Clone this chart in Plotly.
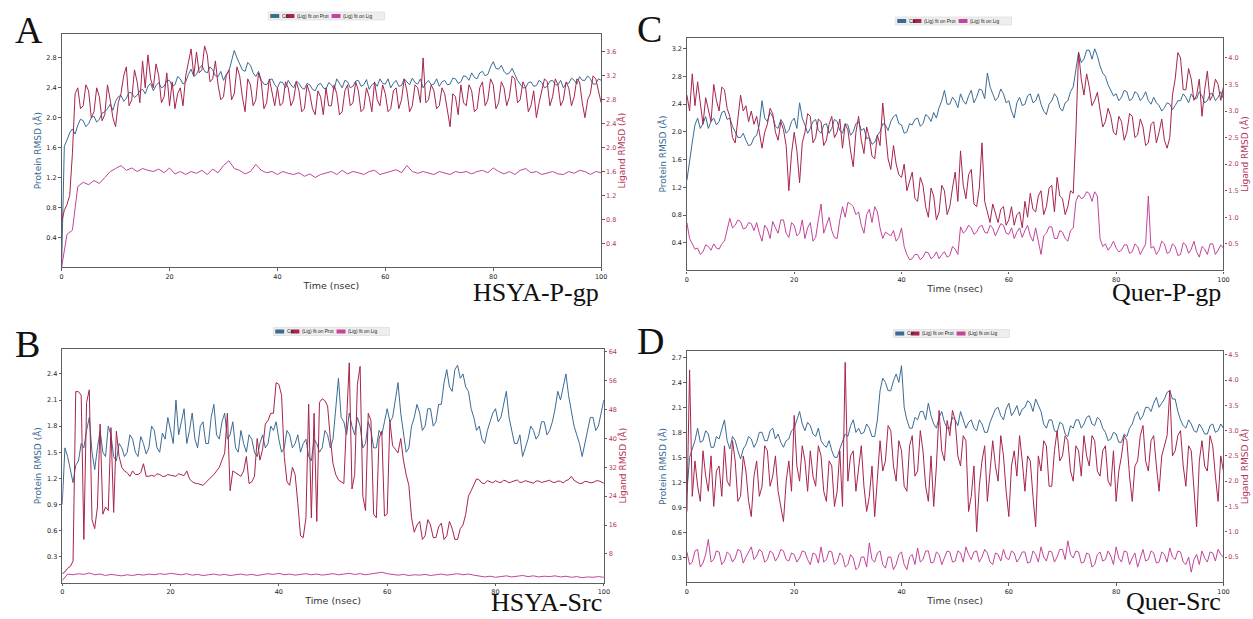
import numpy as np
import plotly.graph_objects as go

W, H = 1253, 619

# ---------------- data (RMSD vs time) ----------------
# 201-point series are sampled every 0.5 ns, 101-point series every 1 ns (0..100 ns)
blue_A = [0.00, 1.62, 1.70, 1.80, 1.85, 1.78, 1.90, 1.98, 1.96, 1.88,
          1.92, 2.00, 2.02, 1.94, 1.98, 2.06, 2.08, 2.12, 2.18, 2.10,
          2.22, 2.28, 2.30, 2.22, 2.26, 2.34, 2.33, 2.27, 2.30, 2.36,
          2.38, 2.32, 2.42, 2.46, 2.36, 2.43, 2.47, 2.40, 2.42, 2.50,
          2.50, 2.42, 2.44, 2.55, 2.52, 2.45, 2.48, 2.58, 2.65, 2.55,
          2.58, 2.66, 2.70, 2.62, 2.60, 2.68, 2.64, 2.56, 2.55, 2.62,
          2.50, 2.58, 2.62, 2.75, 2.90, 2.80, 2.72, 2.64, 2.62, 2.74,
          2.70, 2.60, 2.55, 2.62, 2.50, 2.45, 2.44, 2.50, 2.52, 2.44,
          2.40, 2.48, 2.47, 2.40, 2.50, 2.44, 2.40, 2.49, 2.46, 2.40,
          2.38, 2.46, 2.44, 2.38, 2.36, 2.44, 2.46, 2.40, 2.38, 2.47,
          2.44, 2.38, 2.52, 2.45, 2.40, 2.50, 2.48, 2.40, 2.42, 2.49,
          2.50, 2.42, 2.44, 2.51, 2.38, 2.44, 2.47, 2.42, 2.52, 2.46,
          2.45, 2.52, 2.40, 2.46, 2.50, 2.42, 2.43, 2.52, 2.48, 2.44,
          2.53, 2.47, 2.45, 2.52, 2.40, 2.46, 2.50, 2.44, 2.45, 2.52,
          2.42, 2.48, 2.50, 2.44, 2.45, 2.53, 2.52, 2.46, 2.48, 2.56,
          2.55, 2.50, 2.60, 2.54, 2.52, 2.60, 2.62, 2.56, 2.58, 2.68,
          2.75, 2.66, 2.65, 2.70, 2.62, 2.58, 2.60, 2.66, 2.58, 2.50,
          2.45, 2.40, 2.40, 2.47, 2.48, 2.42, 2.43, 2.50, 2.47, 2.40,
          2.42, 2.49, 2.50, 2.44, 2.44, 2.50, 2.40, 2.46, 2.46, 2.53,
          2.50, 2.45, 2.55, 2.50, 2.50, 2.56, 2.52, 2.45, 2.45, 2.52,
          2.50]
red_A = [0.75, 0.95, 1.05, 1.20, 1.90, 2.90, 3.00, 2.65, 2.70, 3.05,
         2.95, 2.50, 2.60, 3.00, 2.85, 2.45, 2.55, 3.05, 2.80, 2.50,
         2.35, 2.75, 2.90, 3.20, 3.35, 2.70, 2.80, 3.30, 3.10, 2.75,
         3.45, 3.00, 3.55, 3.15, 3.00, 3.40, 3.20, 2.75, 2.85, 3.25,
         2.70, 3.10, 2.65, 2.90, 3.00, 2.70, 3.20, 3.45, 3.65, 3.20,
         3.60, 3.25, 3.30, 3.70, 3.55, 3.10, 3.15, 3.45, 3.05, 2.80,
         2.85, 3.20, 3.30, 2.80, 2.90, 3.35, 3.20, 2.85, 2.60, 3.15,
         3.05, 2.70, 2.80, 3.25, 3.10, 2.65, 2.75, 3.15, 2.95, 2.70,
         3.00, 2.70, 2.75, 3.10, 3.00, 2.70, 2.80, 3.10, 2.95, 2.60,
         2.65, 3.05, 2.90, 2.65, 2.55, 2.95, 2.85, 2.55, 3.00, 2.70,
         2.70, 3.05, 2.90, 2.55, 2.60, 2.95, 3.05, 2.70, 2.75, 3.10,
         2.95, 2.60, 2.65, 3.00, 2.85, 2.60, 3.10, 2.80, 2.70, 3.05,
         2.90, 2.60, 2.65, 2.95, 3.00, 2.65, 2.80, 3.15, 2.95, 2.60,
         2.70, 3.05, 3.00, 2.75, 3.50, 2.75, 2.80, 3.05, 2.95, 2.65,
         2.70, 3.00, 2.90, 2.60, 2.35, 2.90, 2.85, 2.55, 3.05, 2.75,
         2.70, 3.05, 2.95, 2.60, 2.65, 3.00, 3.10, 2.70, 2.80, 3.15,
         3.05, 2.65, 2.75, 3.10, 3.00, 2.70, 2.85, 3.20, 3.15, 2.75,
         2.80, 3.10, 3.00, 2.60, 2.70, 2.95, 2.50, 2.75, 2.95, 3.15,
         3.10, 2.70, 2.85, 3.15, 3.05, 2.70, 2.80, 3.10, 3.00, 2.70,
         2.85, 3.15, 3.10, 2.75, 2.50, 2.80, 2.90, 3.20, 3.15, 2.95,
         2.75]
mag_A = [0.00, 0.55, 0.62, 1.35, 1.42, 1.38, 1.45, 1.40, 1.50, 1.60,
         1.65, 1.70, 1.62, 1.66, 1.60, 1.65, 1.62, 1.60, 1.64, 1.58,
         1.66, 1.56, 1.60, 1.55, 1.60, 1.57, 1.62, 1.55, 1.64, 1.58,
         1.70, 1.78, 1.65, 1.62, 1.56, 1.60, 1.72, 1.62, 1.58, 1.60,
         1.55, 1.60, 1.57, 1.55, 1.58, 1.52, 1.56, 1.50, 1.55, 1.58,
         1.60, 1.55, 1.62, 1.56, 1.60, 1.58, 1.55, 1.60, 1.62, 1.55,
         1.58, 1.60, 1.63, 1.58, 1.70, 1.60, 1.57, 1.60, 1.58, 1.55,
         1.60, 1.57, 1.55, 1.60, 1.58, 1.60, 1.56, 1.60, 1.62, 1.58,
         1.66, 1.60, 1.56, 1.60, 1.55, 1.62, 1.65, 1.58, 1.60, 1.55,
         1.58, 1.60, 1.56, 1.55, 1.60, 1.57, 1.62, 1.60, 1.55, 1.60,
         1.58]

blue_C = [1.30, 1.60, 1.85, 2.10, 2.20, 2.05, 2.12, 2.22, 2.05, 2.15,
          2.20, 2.10, 2.15, 2.28, 2.30, 2.18, 2.20, 2.08, 2.00, 1.92,
          1.92, 1.98, 1.88, 1.80, 1.82, 1.92, 1.95, 2.10, 2.45, 2.20,
          2.15, 2.28, 2.22, 2.08, 2.05, 2.18, 2.12, 1.98, 2.02, 2.15,
          2.20, 2.05, 2.42, 2.20, 2.10, 1.98, 2.05, 2.15, 2.18, 2.02,
          1.98, 2.10, 2.12, 1.98, 2.05, 2.18, 2.15, 2.02, 1.98, 2.12,
          2.10, 1.95, 2.00, 2.12, 2.15, 2.02, 2.05, 1.90, 1.92, 1.82,
          1.85, 1.95, 2.00, 2.12, 2.10, 2.02, 2.15, 2.22, 2.25, 2.12,
          2.10, 1.98, 2.00, 2.12, 2.10, 2.18, 2.20, 2.08, 2.12, 2.25,
          2.22, 2.15, 2.28, 2.20, 2.35, 2.45, 2.60, 2.40, 2.40, 2.50,
          2.45, 2.35, 2.55, 2.45, 2.40, 2.52, 2.60, 2.42, 2.50, 2.62,
          2.60, 2.48, 2.85, 2.65, 2.55, 2.45, 2.50, 2.62, 2.55, 2.42,
          2.45, 2.30, 2.20, 2.42, 2.50, 2.38, 2.40, 2.52, 2.55, 2.42,
          2.45, 2.55, 2.40, 2.30, 2.25, 2.40, 2.45, 2.55, 2.50, 2.35,
          2.30, 2.42, 2.45, 2.58, 2.65, 2.90, 3.15, 3.00, 3.05, 3.18,
          3.18, 3.05, 3.20, 3.10, 2.95, 2.85, 2.80, 2.68, 2.60, 2.52,
          2.55, 2.45, 2.50, 2.60, 2.58, 2.45, 2.48, 2.58, 2.55, 2.45,
          2.50, 2.58, 2.45, 2.40, 2.50, 2.42, 2.38, 2.30, 2.35, 2.42,
          2.40, 2.32, 2.38, 2.45, 2.45, 2.55, 2.50, 2.42, 2.55, 2.48,
          2.48, 2.58, 2.52, 2.42, 2.45, 2.55, 2.55, 2.45, 2.50, 2.58,
          2.48]
red_C = [3.30, 3.00, 3.70, 3.10, 3.55, 3.20, 2.75, 3.25, 3.00, 2.80,
         3.50, 3.20, 3.00, 3.45, 3.40, 3.05, 2.90, 2.50, 2.40, 2.90,
         3.30, 3.00, 3.10, 2.80, 3.00, 2.75, 2.90, 2.60, 2.30, 2.60,
         2.75, 3.05, 2.95, 2.60, 2.45, 2.80, 2.65, 2.35, 1.50, 2.20,
         2.60, 2.25, 1.65, 2.40, 2.60, 2.95, 2.90, 2.40, 2.50, 2.85,
         2.80, 2.35, 2.45, 2.75, 2.90, 2.50, 2.60, 2.85, 2.30, 2.75,
         2.65, 2.25, 1.95, 2.60, 2.90, 2.45, 2.20, 2.70, 2.50, 2.15,
         2.10, 2.55, 2.35, 3.15, 2.60, 2.10, 1.90, 2.35, 2.00, 1.80,
         1.75, 2.00, 1.50, 1.70, 1.85, 1.35, 1.30, 1.75, 1.60, 1.20,
         1.00, 1.55, 1.40, 0.95, 1.10, 1.60, 1.50, 1.05, 1.20, 1.55,
         1.85, 1.30, 2.25, 1.60, 1.35, 1.80, 1.90, 1.25, 1.20, 1.55,
         2.40, 1.30, 1.10, 0.90, 1.25, 1.05, 0.90, 1.15, 1.20, 0.85,
         0.95, 1.20, 0.85, 1.05, 1.10, 0.80, 1.30, 1.00, 1.45, 1.15,
         1.10, 1.40, 1.50, 1.05, 1.20, 1.55, 1.60, 1.10, 1.75, 1.40,
         1.35, 1.05, 1.20, 1.50, 1.45, 2.60, 4.10, 3.60, 3.30, 3.70,
         3.45, 3.10, 3.20, 3.35, 3.00, 2.70, 2.80, 3.05, 2.90, 2.60,
         2.55, 2.90, 2.80, 2.45, 2.60, 2.95, 2.90, 2.50, 2.55, 2.85,
         2.70, 2.35, 2.40, 2.75, 2.80, 2.40, 2.60, 2.85, 2.45, 2.30,
         2.50, 3.30, 3.60, 4.10, 4.00, 3.40, 3.40, 3.80, 3.60, 3.20,
         3.30, 3.60, 2.90, 3.40, 3.75, 3.20, 3.30, 3.60, 3.50, 3.20,
         3.45]
mag_C = [0.90, 0.60, 0.50, 0.40, 0.42, 0.30, 0.35, 0.48, 0.45, 0.38,
         0.50, 0.42, 0.40, 0.50, 0.55, 0.80, 0.98, 0.80, 0.85, 0.95,
         0.92, 0.78, 0.80, 0.90, 0.88, 0.75, 0.90, 0.70, 0.55, 0.85,
         0.78, 0.60, 0.92, 0.80, 0.70, 0.95, 0.95, 0.70, 0.62, 0.90,
         0.85, 0.65, 0.70, 0.95, 0.60, 0.80, 0.90, 0.55, 0.62, 0.95,
         1.25, 0.70, 0.85, 1.00, 0.75, 0.62, 0.60, 0.95, 1.20, 1.00,
         1.28, 1.25, 1.20, 1.05, 1.10, 0.85, 0.70, 1.05, 1.15, 0.90,
         1.20, 1.10, 0.80, 0.60, 0.72, 0.68, 0.65, 0.75, 0.55, 0.62,
         0.80, 0.45, 0.30, 0.20, 0.22, 0.30, 0.30, 0.20, 0.25, 0.35,
         0.33, 0.22, 0.26, 0.35, 0.22, 0.30, 0.35, 0.25, 0.28, 0.45,
         0.40, 0.30, 0.82, 0.70, 0.75, 0.85, 0.80, 0.68, 0.72, 0.82,
         0.85, 0.72, 0.70, 0.85, 0.80, 0.65, 0.75, 0.88, 0.85, 0.70,
         0.68, 0.80, 0.60, 0.72, 0.80, 0.62, 0.75, 0.85, 0.65, 0.55,
         0.80, 0.55, 0.30, 0.65, 0.70, 0.82, 0.82, 0.60, 0.60, 0.75,
         0.72, 0.60, 0.55, 0.75, 0.80, 1.30, 1.42, 1.35, 1.38, 1.48,
         1.45, 1.30, 1.48, 1.40, 0.60, 0.45, 0.50, 0.38, 0.45, 0.55,
         0.42, 0.35, 0.38, 0.48, 0.48, 0.32, 0.35, 0.50, 0.45, 0.30,
         0.40, 0.50, 1.40, 0.42, 0.45, 0.30, 0.38, 0.55, 0.50, 0.32,
         0.35, 0.50, 0.45, 0.28, 0.30, 0.52, 0.48, 0.32, 0.40, 0.55,
         0.35, 0.25, 0.45, 0.40, 0.30, 0.50, 0.50, 0.30, 0.38, 0.48,
         0.42]

blue_B = [0.90, 1.55, 1.45, 1.30, 1.15, 1.35, 1.40, 1.60, 1.55, 1.75,
          1.90, 1.50, 1.30, 1.55, 1.75, 1.50, 1.45, 1.80, 1.70, 1.45,
          1.40, 1.60, 1.55, 1.45, 1.50, 1.70, 1.65, 1.50, 1.45, 1.68,
          1.60, 1.48, 1.55, 1.80, 1.75, 1.55, 1.50, 1.72, 1.65, 1.90,
          1.75, 1.60, 2.10, 1.70, 1.85, 2.00, 1.60, 1.75, 1.95, 1.65,
          1.55, 1.80, 1.85, 1.60, 1.60, 1.90, 2.05, 1.70, 1.65, 1.85,
          1.95, 1.65, 1.70, 1.85, 1.55, 1.50, 1.75, 1.60, 1.50, 1.70,
          1.65, 1.50, 1.45, 1.60, 1.70, 1.55, 1.60, 1.80, 1.75, 1.85,
          1.65, 1.50, 1.55, 1.75, 1.70, 1.55, 1.60, 1.70, 1.50, 1.60,
          1.65, 1.45, 1.40, 1.65, 1.60, 1.50, 1.55, 1.75, 1.70, 1.55,
          1.65, 2.00, 2.35, 1.90, 1.85, 1.70, 1.95, 1.80, 1.70, 1.90,
          1.80, 1.55, 1.60, 1.85, 1.75, 1.55, 1.55, 1.75, 1.70, 1.85,
          2.00, 1.85, 1.90, 2.10, 2.30, 1.95, 1.70, 1.50, 1.55, 1.80,
          1.90, 2.05, 1.95, 1.75, 1.80, 2.00, 2.00, 1.80, 1.85, 2.05,
          2.05, 2.30, 2.45, 2.25, 2.20, 2.45, 2.50, 2.35, 2.40, 2.25,
          2.20, 2.00, 1.90, 1.75, 1.80, 1.65, 1.60, 1.75, 1.85, 1.95,
          2.00, 1.85, 1.90, 2.05, 2.20, 1.90, 1.75, 1.60, 1.60, 1.70,
          1.45, 1.55, 1.65, 1.80, 1.75, 1.65, 1.70, 1.85, 1.85, 1.70,
          1.75, 1.85, 2.00, 2.20, 2.10, 2.25, 2.40, 2.15, 1.95, 1.80,
          1.70, 1.60, 1.45, 1.60, 1.75, 1.90, 1.90, 1.75, 1.80, 1.95,
          2.10]
red_B = [2.5, 3.0, 4.0, 4.5, 6.0, 53.0, 53.0, 52.0, 12.0, 50.0,
         53.5, 17.5, 15.0, 21.0, 44.0, 19.0, 21.0, 20.0, 43.0, 19.5,
         42.0, 35.0, 32.0, 31.0, 30.5, 29.5, 31.0, 30.0, 30.0, 30.5,
         33.0, 29.5, 29.5, 29.8, 29.5, 30.2, 30.0, 29.5, 29.5, 30.0,
         29.8, 29.6, 29.5, 30.2, 30.0, 29.7, 31.0, 28.8, 28.0, 27.6,
         27.5, 27.2, 27.0, 27.8, 28.5, 29.2, 30.0, 31.0, 32.0, 34.0,
         36.0, 47.0, 25.5, 31.0, 30.5, 29.8, 29.5, 31.0, 35.0, 27.5,
         28.0, 29.5, 40.0, 34.0, 37.0, 44.0, 45.0, 47.0, 47.0, 55.5,
         55.0, 52.0, 35.0, 28.0, 27.0, 32.0, 30.0, 22.0, 13.0, 12.5,
         18.0, 49.5, 18.0, 47.0, 17.0, 50.0, 51.0, 50.5, 49.0, 40.0,
         33.0, 30.0, 28.5, 28.0, 27.5, 45.0, 61.0, 26.0, 30.0, 55.0,
         60.0, 24.0, 20.0, 47.0, 45.0, 19.0, 18.0, 40.0, 42.0, 18.5,
         19.0, 45.0, 38.0, 37.0, 36.0, 40.0, 34.0, 30.0, 27.0, 18.0,
         14.0, 16.0, 17.0, 12.0, 13.0, 17.5, 16.0, 12.5, 12.5, 15.5,
         16.5, 12.0, 13.0, 17.0, 15.0, 12.0, 12.0, 15.0, 16.0, 19.0,
         24.0, 25.5, 27.0, 28.8, 28.5, 27.6, 27.5, 28.3, 28.0, 27.7,
         28.3, 27.9, 27.8, 28.4, 28.2, 27.7, 28.0, 28.3, 28.5, 27.8,
         27.9, 28.3, 28.1, 27.7, 27.6, 28.2, 28.2, 27.8, 28.0, 28.4,
         28.4, 27.9, 27.8, 28.2, 28.1, 27.7, 28.3, 28.6, 29.5, 28.4,
         28.0, 27.5, 27.6, 28.1, 28.0, 27.7, 27.8, 28.2, 28.3, 27.9,
         27.6]
mag_B = [0.6, 2.4, 2.2, 2.5, 2.3, 2.7, 2.2, 2.4, 2.0, 2.3,
         2.1, 1.9, 2.2, 2.0, 2.3, 2.1, 2.4, 2.2, 2.5, 2.3,
         2.6, 2.4, 2.2, 2.5, 2.1, 2.3, 2.0, 2.2, 2.4, 2.1,
         2.3, 2.0, 2.2, 2.4, 2.1, 2.3, 2.0, 2.2, 2.5, 2.3,
         2.6, 2.2, 2.4, 2.1, 2.3, 2.5, 2.2, 2.4, 2.1, 2.3,
         2.5, 2.2, 2.4, 2.6, 2.3, 2.5, 2.2, 2.4, 2.7, 2.9,
         2.5, 2.3, 2.1, 2.3, 2.0, 2.2, 2.1, 2.3, 2.0, 2.2,
         2.4, 2.1, 2.3, 2.5, 2.2, 2.4, 2.1, 1.8, 1.6, 1.8,
         1.5, 1.7, 1.9, 1.6, 1.8, 2.0, 1.7, 1.9, 1.6, 1.8,
         1.7, 1.9, 1.6, 1.8, 1.5, 1.7, 1.4, 1.6, 1.5, 1.7,
         1.5]

blue_D = [1.08, 1.50, 1.60, 1.70, 1.85, 1.68, 1.70, 1.82, 1.78, 1.62,
          1.62, 1.75, 1.72, 1.85, 1.95, 1.70, 1.60, 1.75, 1.70, 1.58,
          1.48, 1.60, 1.65, 1.75, 1.72, 1.62, 1.68, 1.80, 1.80, 1.70,
          1.70, 1.82, 1.85, 1.72, 1.78, 1.68, 1.62, 1.70, 1.72, 1.82,
          1.85, 1.95, 2.05, 1.90, 1.82, 1.92, 1.88, 1.78, 1.75, 1.85,
          1.70, 1.65, 1.62, 1.70, 1.58, 1.50, 1.50, 1.60, 1.68, 1.78,
          1.75, 1.88, 1.95, 1.80, 1.85, 1.78, 1.80, 1.90, 1.85, 1.75,
          1.75, 1.95, 2.30, 2.45, 2.40, 2.30, 2.30, 2.42, 2.50, 2.40,
          2.60, 2.10, 1.95, 1.85, 1.85, 1.98, 1.95, 2.05, 2.05, 1.95,
          2.15, 2.00, 1.90, 1.85, 1.98, 2.05, 1.92, 1.85, 1.85, 1.98,
          1.95, 1.88, 2.05, 1.95, 1.85, 1.92, 1.95, 1.85, 1.82, 1.95,
          1.90, 1.80, 1.80, 1.92, 2.00, 2.08, 2.10, 2.00, 1.95, 2.08,
          2.15, 2.00, 2.05, 2.12, 2.00, 2.08, 2.10, 2.18, 2.15, 2.05,
          2.20, 2.12, 2.05, 1.90, 1.85, 1.95, 1.95, 1.82, 1.80, 1.92,
          1.90, 1.78, 1.75, 1.88, 1.85, 1.95, 1.95, 1.85, 1.90, 1.98,
          2.00, 1.90, 1.88, 1.98, 1.95, 1.85, 1.80, 1.70, 1.72, 1.80,
          1.78, 1.68, 1.68, 1.78, 1.75, 1.85, 1.90, 2.00, 2.05, 1.95,
          2.00, 2.10, 2.10, 2.05, 2.15, 2.22, 2.10, 2.15, 2.20, 2.28,
          2.30, 2.20, 2.20, 2.05, 1.95, 1.88, 1.85, 1.95, 1.90, 1.82,
          1.80, 1.90, 1.85, 1.78, 1.78, 1.88, 1.90, 1.80, 1.82, 1.90,
          1.85]
red_D = [1.40, 4.20, 1.70, 2.40, 1.90, 1.60, 2.60, 2.10, 1.80, 2.50,
         1.50, 2.20, 2.30, 1.70, 2.70, 2.00, 1.90, 2.80, 2.40, 1.60,
         1.70, 2.50, 2.20, 1.60, 1.30, 2.10, 2.40, 1.70, 1.90, 2.70,
         2.60, 1.90, 2.10, 2.50, 1.80, 1.50, 1.20, 2.00, 2.40, 1.80,
         3.30, 2.30, 2.00, 2.70, 2.40, 1.80, 2.60, 2.10, 1.90, 2.70,
         2.50, 1.80, 1.60, 2.40, 2.30, 1.50, 1.80, 2.60, 1.50, 4.35,
         2.00, 2.50, 2.60, 1.80, 2.20, 2.70, 1.90, 1.40, 1.70, 2.30,
         1.30, 2.00, 2.80, 2.20, 2.40, 3.10, 3.00, 2.30, 2.00, 2.80,
         2.60, 1.90, 1.80, 2.70, 2.90, 2.10, 2.20, 3.00, 2.60, 1.90,
         1.60, 2.50, 1.50, 2.30, 3.40, 2.60, 2.40, 3.20, 2.90, 3.40,
         3.20, 2.50, 2.30, 2.90, 2.80, 1.40, 1.70, 2.30, 1.00, 1.90,
         2.40, 2.70, 1.60, 2.20, 2.80, 2.30, 2.00, 2.90, 2.50, 1.80,
         1.30, 2.30, 2.60, 2.10, 2.90, 2.40, 1.80, 2.50, 2.40, 1.70,
         1.10, 2.50, 2.20, 2.80, 2.70, 1.90, 1.90, 2.60, 3.00, 2.40,
         2.50, 2.90, 2.80, 2.20, 2.00, 2.70, 2.60, 2.10, 2.90, 2.50,
         2.30, 2.90, 2.80, 2.20, 2.10, 2.60, 2.70, 2.00, 1.90, 2.60,
         1.60, 2.20, 2.50, 2.90, 2.80, 2.10, 1.60, 2.30, 2.40, 2.90,
         3.10, 2.40, 2.20, 2.80, 2.90, 2.30, 1.80, 2.50, 2.70, 2.90,
         3.80, 2.50, 2.60, 2.90, 3.00, 2.30, 1.90, 2.70, 2.60, 1.90,
         1.10, 2.40, 2.80, 2.30, 2.20, 2.90, 2.70, 2.10, 1.60, 2.50,
         2.20]
mag_D = [0.60, 0.35, 0.40, 0.62, 0.65, 0.30, 0.38, 0.55, 0.85, 0.40,
         0.45, 0.62, 0.60, 0.35, 0.42, 0.60, 0.55, 0.40, 0.48, 0.65,
         0.62, 0.38, 0.50, 0.60, 0.70, 0.45, 0.52, 0.65, 0.60, 0.40,
         0.45, 0.62, 0.58, 0.42, 0.50, 0.65, 0.62, 0.45, 0.42, 0.58,
         0.55, 0.40, 0.48, 0.62, 0.60, 0.45, 0.35, 0.58, 0.55, 0.38,
         0.70, 0.40, 0.45, 0.62, 0.60, 0.35, 0.40, 0.58, 0.52, 0.30,
         0.35, 0.55, 0.48, 0.25, 0.30, 0.50, 0.50, 0.30, 0.78, 0.45,
         0.40, 0.58, 0.62, 0.35, 0.28, 0.50, 0.50, 0.25, 0.35, 0.55,
         0.60, 0.35, 0.25, 0.50, 0.55, 0.35, 0.68, 0.40, 0.45, 0.62,
         0.62, 0.38, 0.40, 0.60, 0.55, 0.35, 0.48, 0.62, 0.60, 0.40,
         0.42, 0.62, 0.58, 0.40, 0.70, 0.55, 0.45, 0.60, 0.62, 0.40,
         0.50, 0.65, 0.58, 0.40, 0.35, 0.58, 0.55, 0.42, 0.65, 0.48,
         0.45, 0.62, 0.58, 0.40, 0.48, 0.60, 0.60, 0.38, 0.40, 0.62,
         0.55, 0.40, 0.70, 0.50, 0.42, 0.62, 0.60, 0.40, 0.50, 0.65,
         0.65, 0.45, 0.82, 0.55, 0.48, 0.62, 0.60, 0.38, 0.40, 0.58,
         0.55, 0.30, 0.35, 0.55, 0.60, 0.42, 0.45, 0.62, 0.52, 0.35,
         0.70, 0.48, 0.40, 0.62, 0.60, 0.35, 0.48, 0.58, 0.30, 0.50,
         0.65, 0.42, 0.45, 0.62, 0.58, 0.38, 0.40, 0.60, 0.55, 0.40,
         0.68, 0.50, 0.45, 0.62, 0.60, 0.40, 0.35, 0.50, 0.20, 0.45,
         0.55, 0.35, 0.62, 0.48, 0.40, 0.60, 0.58, 0.42, 0.65, 0.55,
         0.50]

time_ticks = [0, 20, 40, 60, 80, 100]
left_ticks_A = [0.4, 0.8, 1.2, 1.6, 2.0, 2.4, 2.8]
right_ticks_A = [0.4, 0.8, 1.2, 1.6, 2.0, 2.4, 2.8, 3.2, 3.6]
left_ticks_C = [0.4, 0.8, 1.2, 1.6, 2.0, 2.4, 2.8, 3.2]
right_ticks_C = [0.5, 1.0, 1.5, 2.0, 2.5, 3.0, 3.5, 4.0]
left_ticks_B = [0.3, 0.6, 0.9, 1.2, 1.5, 1.8, 2.1, 2.4]
right_ticks_B = [8, 16, 24, 32, 40, 48, 56, 64]
left_ticks_D = [0.3, 0.6, 0.9, 1.2, 1.5, 1.8, 2.1, 2.4, 2.7]
right_ticks_D = [0.5, 1.0, 1.5, 2.0, 2.5, 3.0, 3.5, 4.0, 4.5]
legend_labels = ["Cα", "(Lig) fit on Prot", "(Lig) fit on Lig"]

# ---------------- styling ----------------
BLUE = "#3b6b95"
RED = "#a7244b"
MAG = "#c2449b"
RTXT = "#b3365a"
FRAME = "#5e5e5e"


def px(x):
    return x / W


def py(y):
    return 1 - y / H


panels = [
    dict(letter="A", name="HSYA-P-gp", blue=blue_A, red=red_A, mag=mag_A,
         box=(60.0, 34.0, 603.0, 267.2), lmax=3.12, rmax=3.90,
         lt=left_ticks_A, rt=right_ticks_A, rfmt=".1f",
         letter_xy=(27, 30), name_pos=(292, "middle"), leg=(268, 16)),
    dict(letter="C", name="Quer-P-gp", blue=blue_C, red=red_C, mag=mag_C,
         box=(689.3, 37.7, 1229.3, 270.4), lmax=3.36, rmax=4.38,
         lt=left_ticks_C, rt=right_ticks_C, rfmt=".1f",
         letter_xy=(652, 29), name_pos=(292, "middle"), leg=(899, 21)),
    dict(letter="B", name="HSYA-Src", blue=blue_B, red=red_B, mag=mag_B,
         box=(60.6, 348.7, 605.7, 582.7), lmax=2.69, rmax=64.9,
         lt=left_ticks_B, rt=right_ticks_B, rfmt="d",
         letter_xy=(26, 344), name_pos=(619, "bottom"), leg=(273, 331.5)),
    dict(letter="D", name="Quer-Src", blue=blue_D, red=red_D, mag=mag_D,
         box=(689.3, 350.7, 1229.3, 582.3), lmax=2.78, rmax=4.58,
         lt=left_ticks_D, rt=right_ticks_D, rfmt=".1f",
         letter_xy=(653, 341), name_pos=(618, "bottom"), leg=(897, 333.5)),
]

fig = go.Figure()
layout = {}
shapes = []
annotations = []
tickfont = dict(family="DejaVu Sans", size=6.5, color="#222222")

for i, p in enumerate(panels, start=1):
    xname = "x" if i == 1 else f"x{i}"
    ln, rn = 2 * i - 1, 2 * i
    yl = "y" if ln == 1 else f"y{ln}"
    yr = f"y{rn}"
    x0, y0, x1, y1 = p["box"]

    for vals, col, ax in ((p["blue"], BLUE, yl), (p["red"], RED, yr), (p["mag"], MAG, yr)):
        t = np.linspace(0, 100, len(vals))
        fig.add_trace(go.Scatter(x=t, y=vals, xaxis=xname, yaxis=ax, mode="lines",
                                 line=dict(color=col, width=1), showlegend=False,
                                 hoverinfo="skip"))

    layout["xaxis" if i == 1 else f"xaxis{i}"] = dict(
        domain=[px(x0), px(x1)], anchor=yl, range=[0, 100], tickvals=time_ticks,
        showline=True, mirror=True, linecolor=FRAME, linewidth=1.2,
        ticks="outside", ticklen=2.5, tickcolor=FRAME, tickfont=tickfont,
        showgrid=False, zeroline=False,
        title=dict(text="Time (nsec)", standoff=2,
                   font=dict(family="DejaVu Sans", size=9.5, color="#333333")))
    layout["yaxis" if ln == 1 else f"yaxis{ln}"] = dict(
        domain=[py(y1), py(y0)], anchor=xname, range=[0, p["lmax"]], tickvals=p["lt"],
        tickformat=".1f", showline=True, linecolor=FRAME, linewidth=1.2,
        ticks="outside", ticklen=2.5, tickcolor=FRAME, tickfont=tickfont,
        showgrid=False, zeroline=False,
        title=dict(text="Protein RMSD (Å)", standoff=3,
                   font=dict(family="DejaVu Sans", size=9, color=BLUE)))
    layout[f"yaxis{rn}"] = dict(
        overlaying=yl, side="right", anchor=xname, range=[0, p["rmax"]], tickvals=p["rt"],
        tickformat=p["rfmt"], showline=True, linecolor=FRAME, linewidth=1.2,
        ticks="outside", ticklen=2.5, tickcolor=FRAME,
        tickfont=dict(family="DejaVu Sans", size=6.5, color=RTXT),
        showgrid=False, zeroline=False,
        title=dict(text="Ligand RMSD (Å)", standoff=2,
                   font=dict(family="DejaVu Sans", size=9, color=RTXT)))

    # panel letter and system name
    lx, ly = p["letter_xy"]
    annotations.append(dict(text=p["letter"], x=px(lx), y=py(ly), xref="paper", yref="paper",
                            xanchor="center", yanchor="middle", showarrow=False,
                            font=dict(family="Liberation Serif", size=38, color="#111111")))
    ny, nanchor = p["name_pos"]
    annotations.append(dict(text=p["name"], x=px(x1), y=py(ny), xref="paper",
                            yref="paper", xanchor="right", yanchor=nanchor, showarrow=False,
                            font=dict(family="Liberation Serif", size=26, color="#111111")))

    # small legend above each panel
    L, cy = p["leg"]
    shapes.append(dict(type="rect", xref="paper", yref="paper",
                       x0=px(L), x1=px(L + 117), y0=py(cy + 4), y1=py(cy - 4),
                       fillcolor="#eeeeee", line=dict(color="#d8d8d8", width=0.6)))
    offs = [(2, 11, 12), (17.7, 26.3, 27), (63.7, 72.7, 73)]
    for (s0, s1, tx), col, lab in zip(offs, (BLUE, RED, MAG), legend_labels):
        shapes.append(dict(type="rect", xref="paper", yref="paper",
                           x0=px(L + s0), x1=px(L + s1), y0=py(cy + 2), y1=py(cy - 2),
                           fillcolor=col, line=dict(width=0)))
        annotations.append(dict(text=lab, x=px(L + tx), y=py(cy), xref="paper", yref="paper",
                                xanchor="left", yanchor="middle", showarrow=False,
                                font=dict(family="Liberation Sans", size=4.8, color="#222222")))

fig.update_layout(**layout)
fig.update_layout(width=W, height=H, autosize=False,
                  margin=dict(l=0, r=0, t=0, b=0, pad=0),
                  paper_bgcolor="white", plot_bgcolor="white",
                  shapes=shapes, annotations=annotations, showlegend=False)

# remove the browser's default 8px page margin so the figure sits at the window origin
fig.write_html("out.html", config={"displayModeBar": False},
               post_script="document.body.style.margin='0px';document.body.style.overflow='hidden';")
